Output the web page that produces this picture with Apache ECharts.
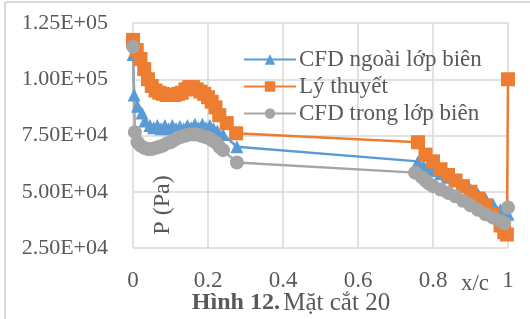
<!DOCTYPE html>
<html>
<head>
<meta charset="utf-8">
<script src="https://cdn.jsdelivr.net/npm/echarts@6/dist/echarts.min.js"></script>
<style>
  html, body { margin: 0; padding: 0; background: #fff; }
  #main { width: 530px; height: 319px; }
</style>
</head>
<body>
<div id="main"></div>
<script>
// CFD ngoài lớp biên
var outerX = [0, 0.003, 0.012, 0.024, 0.032, 0.045, 0.055, 0.065, 0.075, 0.085, 0.095, 0.105, 0.115, 0.125, 0.135, 0.145, 0.155, 0.165, 0.175, 0.185, 0.195, 0.205, 0.215, 0.225, 0.24, 0.277,
  0.76, 0.775, 0.79, 0.80, 0.82, 0.84, 0.86, 0.88, 0.90, 0.92, 0.94, 0.96, 0.98, 0.99, 1.0];
var outerP = [111000, 93000, 88000, 85000, 81500, 79500, 78500, 79500, 78000, 79500, 78000, 79500, 78000, 79000, 78000, 79500, 78500, 80000, 78500, 80000, 78500, 79500, 78000, 77000, 75500, 70000,
  63500, 61500, 60500, 59500, 58000, 56500, 55000, 53000, 51000, 49000, 47000, 44500, 42000, 40000, 40000];

// Lý thuyết
var theoryX = [0, 0.01, 0.02, 0.03, 0.04, 0.05, 0.06, 0.07, 0.08, 0.09, 0.10, 0.11, 0.12, 0.13, 0.14, 0.15, 0.16, 0.17, 0.18, 0.19, 0.20, 0.21, 0.22, 0.23, 0.25, 0.275,
  0.76, 0.78, 0.80, 0.82, 0.84, 0.86, 0.88, 0.90, 0.92, 0.94, 0.96, 0.98, 0.99, 0.997, 1.0];
var theoryP = [117500, 113000, 109000, 104500, 100000, 97000, 95000, 94000, 93500, 93000, 93000, 93000, 93500, 94000, 95500, 96500, 96500, 95500, 94500, 93500, 92000, 90000, 87500, 84000, 80500, 76000,
  72000, 66500, 63500, 60000, 57500, 55000, 52500, 50000, 47000, 44000, 40000, 35000, 32000, 31000, 100000];

// CFD trong lớp biên
var innerX = [0, 0.005, 0.012, 0.02, 0.03, 0.04, 0.05, 0.06, 0.07, 0.08, 0.09, 0.10, 0.11, 0.12, 0.13, 0.14, 0.15, 0.16, 0.17, 0.18, 0.19, 0.20, 0.21, 0.22, 0.23, 0.24, 0.277,
  0.752, 0.77, 0.78, 0.79, 0.80, 0.82, 0.84, 0.86, 0.88, 0.90, 0.92, 0.94, 0.96, 0.98, 0.99, 1.0];
var innerP = [114500, 76500, 72000, 70500, 69500, 69000, 69000, 69500, 70000, 70500, 71500, 72000, 73000, 74000, 74500, 75000, 75500, 75500, 75500, 75000, 74500, 74000, 73000, 72000, 70000, 68500, 63000,
  58500, 56500, 55000, 53500, 52500, 51000, 49500, 48000, 46000, 44000, 42000, 40000, 38500, 37000, 36000, 43000];

var seriesNames = ['CFD ngoài lớp biên', 'Lý thuyết', 'CFD trong lớp biên'];
var xTicks = [0, 0.2, 0.4, 0.6, 0.8, 1];

var serif = 'Liberation Serif';
var textColor = '#595959';

function pairs(xs, ys) {
    var out = [];
    for (var i = 0; i < xs.length; i++) {
        out.push([xs[i], ys[i]]);
    }
    return out;
}

function sciLabel(v) {
    var e = Math.floor(Math.log10(v));
    var m = (v / Math.pow(10, e)).toFixed(2);
    return m + 'E+' + (e < 10 ? '0' + e : e);
}

var myChart = echarts.init(document.getElementById('main'));
var option = {
    animation: false,
    backgroundColor: '#fff',
    grid: { left: 133, right: 22, top: 23, bottom: 71 },
    legend: {
        left: 238,
        top: 43,
        orient: 'vertical',
        itemWidth: 52,
        itemHeight: 13,
        itemGap: 4,
        textStyle: { fontFamily: serif, fontSize: 23, lineHeight: 23, color: textColor, padding: [0, 0, 0, -2] },
        data: seriesNames
    },
    xAxis: {
        type: 'value',
        min: 0,
        max: 1,
        interval: 0.2,
        axisLine: { show: false },
        axisTick: { show: false },
        splitLine: { lineStyle: { color: '#D9D9D9', width: 1.5 } },
        axisLabel: {
            margin: 21,
            fontFamily: serif,
            fontSize: 23,
            color: textColor,
            formatter: function (v) {
                var r = Math.round(v * 10) / 10;
                return xTicks.indexOf(r) >= 0 ? String(r) : '';
            }
        }
    },
    yAxis: {
        type: 'value',
        min: 25000,
        max: 125000,
        interval: 25000,
        axisLine: { show: false },
        axisTick: { show: false },
        splitLine: { lineStyle: { color: '#D9D9D9', width: 1.5 } },
        axisLabel: {
            margin: 25,
            fontFamily: serif,
            fontSize: 22,
            color: textColor,
            formatter: sciLabel
        }
    },
    graphic: [
        { type: 'line', shape: { x1: 5, y1: 2, x2: 530, y2: 2 }, style: { stroke: '#D9D9D9', lineWidth: 2 } },
        { type: 'line', shape: { x1: 5, y1: 2, x2: 5, y2: 319 }, style: { stroke: '#D9D9D9', lineWidth: 2 } },
        {
            type: 'text', x: 163, y: 205, rotation: Math.PI / 2, z: 10,
            style: { text: 'P (Pa)', fontFamily: serif, fontSize: 24, fill: textColor, align: 'center', verticalAlign: 'middle' }
        },
        {
            type: 'text', x: 475, y: 284, z: 10,
            style: { text: 'x/c', fontFamily: serif, fontSize: 23, fill: textColor, align: 'center', verticalAlign: 'middle' }
        },
        {
            type: 'text', x: 291, y: 303, z: 10,
            style: {
                text: '{b|Hình 12.} {n|Mặt cắt 20}',
                align: 'center', verticalAlign: 'middle',
                rich: {
                    b: { fontFamily: serif, fontSize: 24, fontWeight: 'bold', fill: textColor, color: textColor },
                    n: { fontFamily: serif, fontSize: 25, fill: textColor, color: textColor }
                }
            }
        }
    ],
    series: [
        {
            name: seriesNames[0],
            type: 'line',
            data: pairs(outerX, outerP),
            symbol: 'triangle',
            symbolSize: 13,
            color: '#5B9BD5',
            lineStyle: { width: 2.5 }
        },
        {
            name: seriesNames[1],
            type: 'line',
            data: pairs(theoryX, theoryP),
            symbol: 'rect',
            symbolSize: 14,
            color: '#ED7D31',
            lineStyle: { width: 2.5 }
        },
        {
            name: seriesNames[2],
            type: 'line',
            data: pairs(innerX, innerP),
            symbol: 'circle',
            symbolSize: 14,
            color: '#A5A5A5',
            lineStyle: { width: 2.5 }
        }
    ]
};
myChart.setOption(option);
</script>
</body>
</html>
